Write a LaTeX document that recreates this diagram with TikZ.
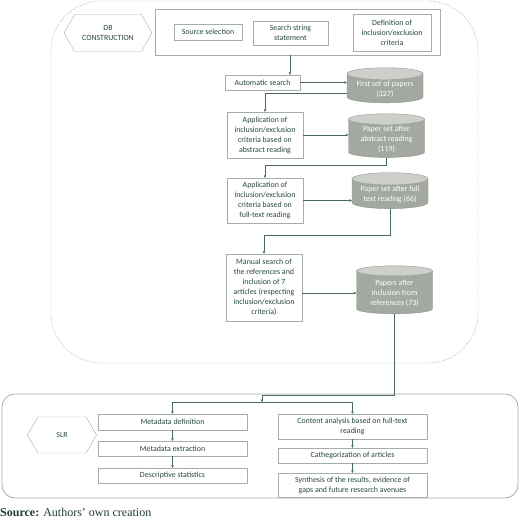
\documentclass[tikz,border=0pt]{standalone}
\usepackage{fontspec}
\setmainfont{Carlito}
\newfontfamily\captfont{Liberation Serif}
\usetikzlibrary{shapes.geometric,shapes.symbols,arrows.meta}

\definecolor{tealtxt}{HTML}{264642}
\definecolor{boxgray}{HTML}{A6ADA8}
\definecolor{cylline}{HTML}{8F958E}
\definecolor{cylbody}{HTML}{A3A8A0}
\definecolor{cyltop}{HTML}{CDD0CA}
\definecolor{linkcol}{HTML}{4A6662}
\definecolor{captcol}{HTML}{203A37}

\tikzset{
  box/.style={draw=boxgray, text=tealtxt, align=center, inner sep=1pt,
    font=\fontsize{7.9}{10}\selectfont},
  papers/.style={cylinder, shape border rotate=90, aspect=0.2, draw=cylline,
    cylinder uses custom fill, cylinder body fill=cylbody, cylinder end fill=cyltop,
    text=white, align=center, inner sep=1pt, font=\fontsize{7.9}{10}\selectfont},
  stage/.style={signal, signal to=east and west, signal pointer angle=120,
    draw=boxgray, text=tealtxt, align=center, inner sep=1pt,
    font=\fontsize{7.9}{10}\selectfont},
  link/.style={draw=linkcol, line width=0.5pt, -{Triangle[length=2.5pt,width=2.5pt]}},
}

\begin{document}
\begin{tikzpicture}[x=1pt,y=-1pt]
  \useasboundingbox (0,0) rectangle (520,520);

  % frames
  \draw[boxgray, dash pattern=on 1.5pt off 1.2pt, rounded corners=50pt] (51,1) rectangle (478,363);
  \draw[boxgray, line width=0.8pt, rounded corners=13pt] (2,394) rectangle (518,498);

  % DB construction
  \node[stage, minimum width=88pt, minimum height=37pt] (dbc) at (108,33) {DB\\CONSTRUCTION};
  \node[box, minimum width=285pt, minimum height=46pt] (plan) at (297.5,32) {};

  \begin{scope}[every node/.style={box}]
    \node[minimum width=68pt, minimum height=16pt] (src) at (208,32) {Source selection};
    \node[minimum width=75pt, minimum height=24pt] (str) at (290.5,33) {Search string\\statement};
    \node[minimum width=78pt, minimum height=37pt] (def) at (392,32.5) {Definition of\\inclusion/exclusion\\criteria};
    \node[minimum width=75pt, minimum height=15pt] (auto) at (262.5,82.5) {Automatic search};
    \node[minimum width=76pt, minimum height=46pt] (app1) at (265,135) {Application of\\inclusion/exclusion\\criteria based on\\abstract reading};
    \node[minimum width=76pt, minimum height=45pt] (app2) at (265,200.5) {Application of\\inclusion/exclusion\\criteria based on\\full-text reading};
    \node[minimum width=76pt, minimum height=67pt] (man) at (264,287.5) {Manual search of\\the references and\\inclusion of 7\\articles (respecting\\inclusion/exclusion\\criteria)};
  \end{scope}

  \begin{scope}[every node/.style={papers, minimum width=76pt}]
    \node[minimum height=32pt] (set1) at (385,89) {First set of papers\\(327)};
    \node[minimum height=38pt] (set2) at (386.5,139) {Paper set after\\abstract reading\\(119)};
    \node[minimum height=35pt] (set3) at (390,194.5) {Paper set after full\\text reading (66)};
    \node[minimum height=48pt] (set4) at (394.5,293) {Papers after\\inclusion from\\references (73)};
  \end{scope}

  \draw[link] (plan.south -| 290,0) -- (auto.north -| 290,0);
  \draw[link] (auto) -- (set1.west |- auto);
  \draw[link] ([yshift=-4pt]set1.west) -| (app1.north);
  \draw[link] (app1) -- (set2.west |- app1);
  \draw[link] (set2.south) -- ++(0,8) -| (app2.north);
  \draw[link] (app2) -- (set3.west |- app2);
  \draw[link] (set3.south) -- ++(0,26) -| (man.north);
  \draw[link] (man.east |- 0,293) -- (set4.west |- 0,293);

  % SLR
  \node[stage, minimum width=69pt, minimum height=36pt] (slr) at (62,435) {SLR};
  \coordinate (jn) at (262,402);

  \begin{scope}[every node/.style={box, minimum width=149pt}]
    \node[minimum height=16pt] (md) at (172.5,422) {Metadata definition};
    \node[minimum height=15pt] (mx) at (172.5,448.5) {Metadata extraction};
    \node[minimum height=15pt] (ds) at (172.5,475.5) {Descriptive statistics};
    \node[minimum height=25pt] (ca) at (352.5,426.5) {Content analysis based on full-text\\reading};
    \node[minimum height=15pt] (cat) at (352.5,455.5) {Cathegorization of articles};
    \node[minimum height=24pt] (syn) at (352.5,485) {Synthesis of the results, evidence of\\gaps and future research avenues};
  \end{scope}

  \draw[link] (set4.south) |- ([yshift=7pt]jn) -- (jn);
  \draw[link] (jn) -| (md.north);
  \draw[link] (jn) -| (ca.north);
  \draw[link] (md) -- (mx);
  \draw[link] (mx) -- (ds);
  \draw[link] (ca) -- (cat);
  \draw[link] (cat) -- (syn);

  \node[anchor=base west, inner sep=0pt, text=captcol, font=\captfont\fontsize{12}{14}\selectfont] (capt) at (0,516) {\textbf{Source:} Authors’ own creation};
\end{tikzpicture}
\end{document}
